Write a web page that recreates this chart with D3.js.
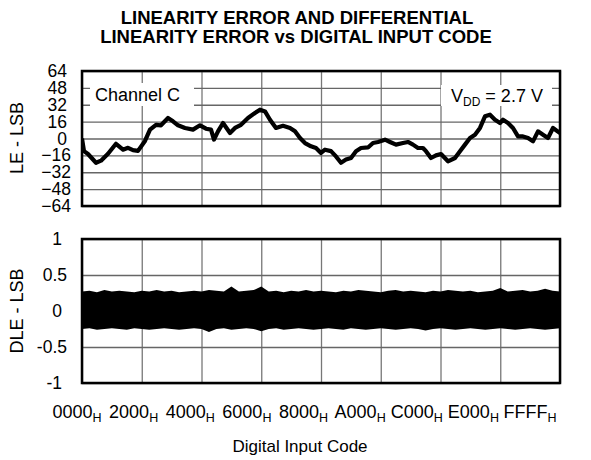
<!DOCTYPE html>
<html>
<head>
<meta charset="utf-8">
<script src="https://cdn.jsdelivr.net/npm/d3@7"></script>
<style>
  body { margin: 0; background: #fff; }
  text { font-family: "Liberation Sans", Arial, sans-serif; fill: #000; }
</style>
</head>
<body>
<svg id="chart" width="591" height="460"></svg>
<script>
/*global d3
 */

// x axis codes (hex) and their labels
const xTickCodes = [0x0000, 0x2000, 0x4000, 0x6000, 0x8000, 0xA000, 0xC000, 0xE000, 0xFFFF];
const xTickLabels = ["0000", "2000", "4000", "6000", "8000", "A000", "C000", "E000", "FFFF"];

const leTicks = [64, 48, 32, 16, 0, -16, -32, -48, -64];
const dleTicks = [1, 0.5, 0, -0.5, -1];

// LE curve
const leCodes = [0, 274, 823, 1919, 2605, 3565, 4661, 5621, 6307, 6992,
  7678, 8637, 9323, 10145, 10831, 11791, 12476, 13162, 14121, 15218,
  16178, 17000, 17686, 18097, 18646, 19331, 20291, 20976, 21799, 22759,
  23718, 24404, 25089, 25775, 26597, 27557, 28517, 29202, 29888, 30573,
  31396, 32081, 32767, 33315, 34138, 34823, 35509, 36194, 36880, 37565,
  38251, 39211, 39896, 40582, 41541, 42227, 43049, 44009, 44695, 45380,
  46066, 46751, 47162, 47848, 48533, 49219, 50178, 51138, 51824, 52509,
  53195, 53880, 54566, 55251, 55937, 56622, 57308, 57719, 58405, 59090,
  59776, 60461, 61147, 61832, 62518, 63203, 63889, 64574, 65535];
const leValues = [0, -12, -14.7, -23, -21, -14.5, -5, -10.6, -8.8, -11,
  -11.7, -2.3, 8.4, 13, 12.5, 19.4, 16.3, 12.5, 10, 8.4,
  12.5, 9.3, 8.4, -1, 6.8, 14.7, 5.2, 10, 13, 19.4,
  24.2, 27.3, 25.7, 17.8, 10, 12, 10, 6.8, 0.5, -4.3,
  -7.4, -9, -13.7, -10.6, -12, -17, -23, -20, -18.5, -12,
  -9, -8.5, -4.3, -3.3, -1.1, -3.3, -5.8, -4.3, -3.3, -5.8,
  -9, -9, -12, -18.5, -16, -14.7, -21.6, -18.5, -12, -5.8,
  0.5, 3.6, 10, 21, 22.6, 17.8, 14.7, 17.8, 14.7, 10,
  2, 2, 0.5, -2.7, 6.8, 3.6, 0.5, 10, 5.2];

// DLE band: upper and lower envelope, one value every 1024 codes
const dleUpper = [0.27, 0.28, 0.26, 0.29, 0.27, 0.28, 0.27, 0.26, 0.28, 0.27,
  0.29, 0.27, 0.28, 0.26, 0.27, 0.28, 0.27, 0.29, 0.28, 0.27,
  0.34, 0.27, 0.28, 0.29, 0.34, 0.27, 0.28, 0.26, 0.28, 0.27,
  0.29, 0.27, 0.28, 0.27, 0.26, 0.28, 0.27, 0.29, 0.28, 0.27,
  0.26, 0.28, 0.29, 0.27, 0.28, 0.27, 0.26, 0.28, 0.27, 0.29,
  0.28, 0.27, 0.28, 0.26, 0.27, 0.28, 0.32, 0.27, 0.28, 0.29,
  0.27, 0.28, 0.31, 0.28, 0.27];
const dleLower = [-0.25, -0.24, -0.26, -0.25, -0.24, -0.25, -0.26, -0.24, -0.25, -0.26,
  -0.25, -0.24, -0.25, -0.26, -0.25, -0.24, -0.25, -0.29, -0.25, -0.24,
  -0.26, -0.25, -0.24, -0.25, -0.28, -0.25, -0.24, -0.26, -0.25, -0.24,
  -0.25, -0.26, -0.25, -0.24, -0.25, -0.26, -0.24, -0.25, -0.26, -0.25,
  -0.24, -0.25, -0.26, -0.25, -0.24, -0.25, -0.27, -0.25, -0.24, -0.25,
  -0.26, -0.25, -0.24, -0.25, -0.26, -0.25, -0.24, -0.25, -0.26, -0.25,
  -0.24, -0.25, -0.26, -0.25, -0.24];

const svg = d3.select("#chart");

const left = 82, right = 560;
const x = d3.scaleLinear().domain([0, 65535]).range([left, right]);
const yLE = d3.scaleLinear().domain([-64, 64]).range([206, 71]);
const yDLE = d3.scaleLinear().domain([-1, 1]).range([383, 239]);

// title
svg.append("text")
  .attr("x", 297).attr("y", 24)
  .attr("text-anchor", "middle")
  .style("font-size", "18.5px").style("font-weight", "bold")
  .text("LINEARITY ERROR AND DIFFERENTIAL");
svg.append("text")
  .attr("x", 296).attr("y", 43)
  .attr("text-anchor", "middle")
  .style("font-size", "18.5px").style("font-weight", "bold")
  .text("LINEARITY ERROR vs DIGITAL INPUT CODE");

function drawPanel(y, yTicks, fmt, yTitle, titleY, clipId) {
  let top = y.range()[1], bottom = y.range()[0];
  let g = svg.append("g");

  // vertical grid
  g.append("g")
    .attr("transform", "translate(0," + bottom + ")")
    .call(d3.axisBottom(x).tickValues(xTickCodes).tickSize(-(bottom - top)).tickFormat(""))
    .call(a => a.select(".domain").remove())
    .call(a => a.selectAll("line").attr("stroke", "#777").attr("stroke-width", 1.3));

  // horizontal grid + tick labels
  let yAxis = g.append("g")
    .attr("transform", "translate(" + left + ",0)")
    .call(d3.axisLeft(y).tickValues(yTicks).tickSize(-(right - left)).tickPadding(15).tickFormat(fmt))
    .call(a => a.select(".domain").remove())
    .call(a => a.selectAll("line").attr("stroke", "#666").attr("stroke-width", 1.3));
  yAxis.selectAll("text")
    .attr("font-family", null)
    .style("font-size", "17.5px")
    .attr("fill", "#000");

  g.append("clipPath").attr("id", clipId)
    .append("rect")
    .attr("x", left).attr("y", top)
    .attr("width", right - left).attr("height", bottom - top);

  g.append("text")
    .attr("transform", "translate(23," + titleY + ") rotate(-90)")
    .attr("text-anchor", "middle")
    .style("font-size", "18px")
    .text(yTitle);

  return {g: g, yAxis: yAxis, top: top, bottom: bottom};
}

function drawBorder(p) {
  p.g.append("rect")
    .attr("x", left).attr("y", p.top)
    .attr("width", right - left).attr("height", p.bottom - p.top)
    .attr("fill", "none")
    .attr("stroke", "#000")
    .attr("stroke-width", 2.5);
}

// ---- LE panel
let le = drawPanel(yLE, leTicks, d3.format("d"), "LE - LSB", 138, "clipLE");
le.yAxis.selectAll(".tick text").attr("dx", d => d < 0 ? 4 : 0);

let labelBoxes = [
  {x: 90, y: 83, w: 104, h: 23, tx: 95, ty: 100.5},
  {x: 441, y: 85, w: 111, h: 21, tx: 451, ty: 101.5}
];
le.g.selectAll("rect.label")
  .data(labelBoxes)
  .join("rect")
  .attr("class", "label")
  .attr("x", d => d.x).attr("y", d => d.y)
  .attr("width", d => d.w).attr("height", d => d.h)
  .attr("fill", "#fff");

le.g.append("text")
  .attr("x", labelBoxes[0].tx).attr("y", labelBoxes[0].ty)
  .style("font-size", "18px")
  .text("Channel C");
let vdd = le.g.append("text")
  .attr("x", labelBoxes[1].tx).attr("y", labelBoxes[1].ty)
  .style("font-size", "18px");
vdd.append("tspan").text("V");
vdd.append("tspan").attr("dy", 4).style("font-size", "12px").text("DD");
vdd.append("tspan").attr("dy", -4).text(" = 2.7 V");

let lePoints = leCodes.map((c, i) => [c, leValues[i]]);
le.g.append("path")
  .datum(lePoints)
  .attr("clip-path", "url(#clipLE)")
  .attr("fill", "none")
  .attr("stroke", "#000")
  .attr("stroke-width", 4.2)
  .attr("stroke-linejoin", "round")
  .attr("d", d3.line().x(d => x(d[0])).y(d => yLE(d[1])));

drawBorder(le);

// ---- DLE panel
let dle = drawPanel(yDLE, dleTicks, d => d === 0 ? "0" : String(d), "DLE - LSB", 311, "clipDLE");
dle.yAxis.selectAll(".tick text").attr("dx", d => Number.isInteger(d) ? -5 : 0);

let dleCodes = d3.range(0, 65536 + 1, 1024).map(c => Math.min(c, 65535));
let band = dleCodes.map((c, i) => ({c: c, hi: dleUpper[i], lo: dleLower[i]}));
dle.g.append("path")
  .datum(band)
  .attr("clip-path", "url(#clipDLE)")
  .attr("fill", "#000")
  .attr("d", d3.area().x(d => x(d.c)).y0(d => yDLE(d.lo)).y1(d => yDLE(d.hi)));

drawBorder(dle);

// x labels: evenly spread row under the bottom panel
let xLab = d3.scalePoint().domain(xTickLabels).range([77, 530]);
let xl = svg.append("g").selectAll("text")
  .data(xTickLabels)
  .join("text")
  .attr("x", d => xLab(d))
  .attr("y", 418)
  .attr("text-anchor", "middle")
  .style("font-size", "18px");
xl.append("tspan").text(d => d);
xl.append("tspan").attr("dy", 4).style("font-size", "12.5px").text("H");

svg.append("text")
  .attr("x", 300).attr("y", 452)
  .attr("text-anchor", "middle")
  .style("font-size", "17px")
  .text("Digital Input Code");
</script>
</body>
</html>
